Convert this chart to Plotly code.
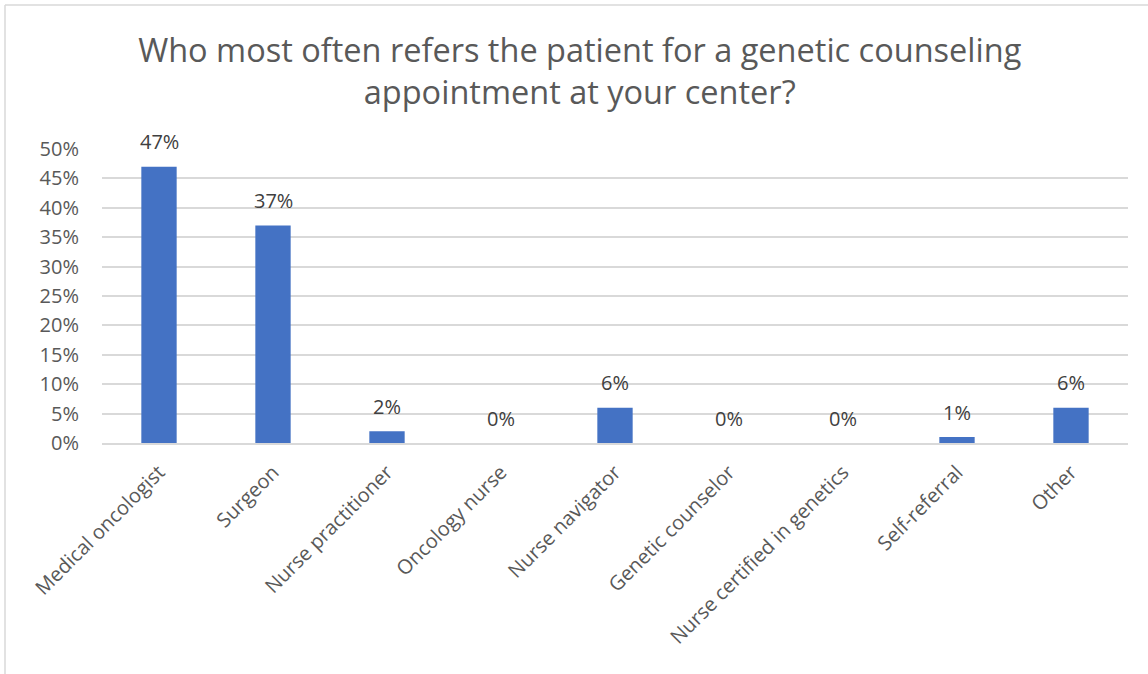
import plotly.graph_objects as go

categories = ["Medical oncologist", "Surgeon", "Nurse practitioner", "Oncology nurse",
              "Nurse navigator", "Genetic counselor", "Nurse certified in genetics",
              "Self-referral", "Other"]
values = [0.47, 0.37, 0.02, 0.0, 0.06, 0.0, 0.0, 0.01, 0.06]
labels = ["47%", "37%", "2%", "0%", "6%", "0%", "0%", "1%", "6%"]
tick_vals = [0, 0.05, 0.10, 0.15, 0.20, 0.25, 0.30, 0.35, 0.40, 0.45, 0.50]
tick_text = ["0%", "5%", "10%", "15%", "20%", "25%", "30%", "35%", "40%", "45%", "50%"]

W, H = 1148, 674
L, R, T, B = 102, 20, 149, 231
FONT = "Open Sans"
GREY = "#595959"

fig = go.Figure()
fig.add_trace(go.Bar(x=categories, y=values, marker_color="#4472C4",
                     marker_line_width=0, width=0.31))

for c, v, t in zip(categories, values, labels):
    fig.add_annotation(x=c, y=v, text=t, showarrow=False, yshift=25,
                       font=dict(family=FONT, size=20, color="#404040"))

pw = W - L - R
ph = H - T - B
x5 = (5 - L) / pw
y5 = 1 + (T - 5) / ph
ybot = -(B + 5) / ph
xright = 1 + (R + 5) / pw
fig.add_shape(type="line", xref="paper", yref="paper", x0=x5, x1=x5, y0=ybot, y1=y5,
              line=dict(color="#d9d9d9", width=1.5))
fig.add_shape(type="line", xref="paper", yref="paper", x0=x5, x1=xright, y0=y5, y1=y5,
              line=dict(color="#d9d9d9", width=1.5))

fig.update_layout(
    width=W, height=H,
    margin=dict(l=L, r=R, t=T, b=B, autoexpand=False),
    paper_bgcolor="white", plot_bgcolor="white",
    showlegend=False,
    title=dict(text="Who most often refers the patient for a genetic counseling<br>appointment at your center?",
               x=0.505, xanchor="center", y=1 - 62 / H, yanchor="top",
               font=dict(family=FONT, size=32.5, color=GREY)),
    bargap=0.69,
)
fig.update_yaxes(range=[0, 0.5], tickvals=tick_vals, ticktext=tick_text,
                 showgrid=True, gridcolor="#d9d9d9", gridwidth=1.5,
                 zeroline=False, showline=False, ticks="", automargin=False,
                 ticklabelstandoff=22,
                 tickfont=dict(family=FONT, size=20, color=GREY))
fig.update_xaxes(tickangle=-45, showline=True, linecolor="#d9d9d9", linewidth=1.5,
                 ticks="", ticklabelstandoff=8, automargin=False,
                 tickfont=dict(family=FONT, size=20, color=GREY))

fig.write_html("out.html", config={"displayModeBar": False},
               post_script="document.body.style.margin='0';document.body.style.padding='0';")
